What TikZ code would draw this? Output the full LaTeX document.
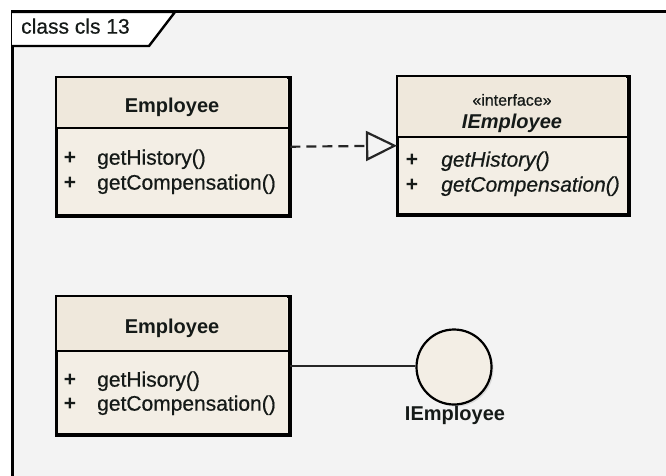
\documentclass[tikz,border=0pt]{standalone}
\usepackage{fontspec}
\setmainfont{Liberation Sans}
\newfontfamily\darkfont[FakeBold=0.6]{Liberation Sans}
\usetikzlibrary{arrows.meta,shadows}
\definecolor{framebg}{HTML}{F3F3F3}
\definecolor{boxfill}{HTML}{F3EEE5}
\definecolor{headfill}{HTML}{EFE8DC}
\definecolor{txtcol}{HTML}{151A18}
\begin{document}
\begin{tikzpicture}[x=1pt,y=-1pt,
  umlbox/.style={draw=black, line width=2.4pt, fill=boxfill, inner sep=0pt, anchor=north west,
    minimum width=232pt, minimum height=137pt,
    drop shadow={shadow xshift=3pt, shadow yshift=-3pt, fill=black!40, opacity=0.45}},
  divider/.style={line width=2.2pt},
  big/.style={font=\fontsize{21}{24}\selectfont\darkfont, text=txtcol, inner sep=0pt},
  title/.style={big, font=\fontsize{20}{24}\selectfont\bfseries, anchor=mid},
  member/.style={big, anchor=mid west},
  plus/.style={big, anchor=mid, font=\fontsize{21}{24}\selectfont\bfseries},
  conn/.style={line width=2.2pt, draw=black!85}
]
\useasboundingbox (0,0) rectangle (666,476);
\clip (0,0) rectangle (666,476);
\fill[white] (0,0) rectangle (666,476);
% frame
\draw[line width=3pt, fill=framebg] (12,12) rectangle (720,520);
\draw[line width=2.4pt, fill=white] (12,12) -- (175,12) -- (149,46) -- (12,46);
\node[big, anchor=mid west] (frametitle) at (21,31) {class cls 13};

% top-left class
\node[umlbox] (emp1) at (56,77) {};
\fill[headfill] ([shift={(1.2,1.2)}]emp1.north west) rectangle (287,127);
\draw[line width=2.4pt] (emp1.north west) rectangle (emp1.south east);
\draw[divider] (emp1.west |- 0,128) -- (emp1.east |- 0,128);
\node[title] (emp1t) at (172,110) {Employee};
\node[plus] (emp1p1) at (70,162) {+};
\node[member] (emp1m1) at (97,162) {getHistory()};
\node[plus] (emp1p2) at (70,187) {+};
\node[member] (emp1m2) at (97,187) {getCompensation()};

% top-right interface
\node[umlbox, minimum width=230pt] (iface) at (397,76) {};
\fill[headfill] ([shift={(1.2,1.2)}]iface.north west) rectangle (626,136);
\draw[line width=2.4pt] (iface.north west) rectangle (iface.south east);
\draw[divider] (iface.west |- 0,137) -- (iface.east |- 0,137);
\node[big, anchor=mid, font=\fontsize{16}{18}\selectfont\darkfont] (ifst) at (512,103) {«interface»};
\node[title, font=\fontsize{20}{24}\selectfont\bfseries\itshape] (ifname) at (512,126) {IEmployee};
\node[plus] (ifp1) at (412,164) {+};
\node[member, font=\fontsize{21}{24}\selectfont\darkfont\itshape] (ifm1) at (441,164) {getHistory()};
\node[plus] (ifp2) at (412,189) {+};
\node[member, font=\fontsize{21}{24}\selectfont\darkfont\itshape] (ifm2) at (441,189) {getCompensation()};

% realization
\draw[conn, dash pattern=on 10pt off 6pt, -{Triangle[open, length=31pt, width=30pt, line width=2.2pt]}] (emp1.east) -- (iface.west);

% bottom-left class
\node[umlbox] (emp2) at (56,296) {};
\fill[headfill] ([shift={(1.2,1.2)}]emp2.north west) rectangle (287,350);
\draw[line width=2.4pt] (emp2.north west) rectangle (emp2.south east);
\draw[divider] (emp2.west |- 0,351) -- (emp2.east |- 0,351);
\node[title] (emp2t) at (172,331) {Employee};
\node[plus] (emp2p1) at (70,384) {+};
\node[member] (emp2m1) at (97,384) {getHisory()};
\node[plus] (emp2p2) at (70,408) {+};
\node[member] (emp2m2) at (97,408) {getCompensation()};

% lollipop interface
\node[circle, draw=black, line width=2.2pt, fill=boxfill, minimum size=75pt, inner sep=0pt,
  drop shadow={shadow xshift=2pt, shadow yshift=-2pt, fill=black!30, opacity=0.4}] (circ) at (454,367) {};
\node[title] (circlabel) at (455,418) {IEmployee};
\draw[conn] (emp2.east) -- (emp2.east -| circ.west);
\end{tikzpicture}
\end{document}
